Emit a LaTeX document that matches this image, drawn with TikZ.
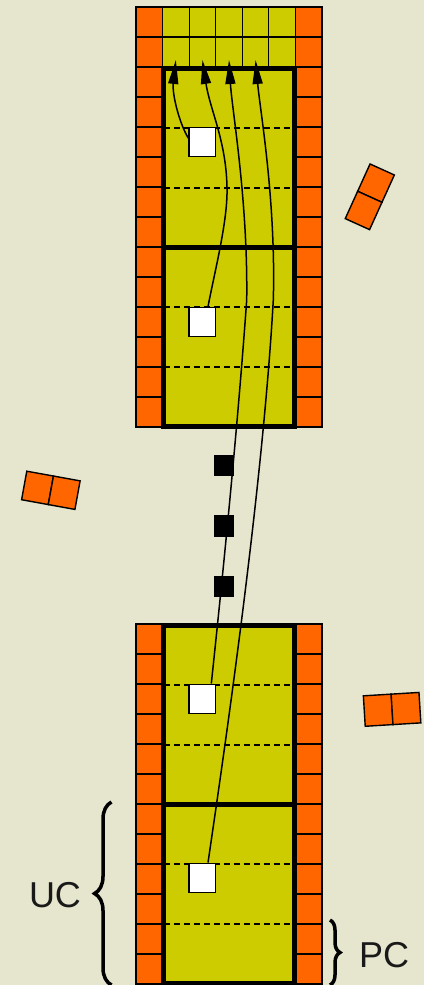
\documentclass[tikz,border=0pt]{standalone}
\usepackage{fontspec}
\setmainfont{Liberation Sans}
\usetikzlibrary{arrows.meta,positioning,decorations.pathreplacing}

\definecolor{bgbeige}{RGB}{230,229,205}
\definecolor{brickorange}{RGB}{255,102,0}
\definecolor{cellyellow}{RGB}{204,204,0}

\begin{document}
\begin{tikzpicture}[x=1pt, y=-1pt, >={Triangle[length=24pt,width=10pt]},
    brick/.style={rectangle, draw, line width=1.2pt, fill=brickorange, minimum width=26.57pt, minimum height=30pt, inner sep=0pt, outer sep=0pt},
    tile/.style={brick, fill=cellyellow},
    domino/.style={brick, line width=1.4pt},
    unitbox/.style={rectangle, draw, line width=5pt, fill=cellyellow, minimum width=131pt, minimum height=179pt, inner sep=0pt, outer sep=0pt},
    slot/.style={rectangle, draw, line width=1.4pt, fill=white, minimum width=26.5pt, minimum height=29.5pt, inner sep=0pt},
    token/.style={rectangle, fill=black, minimum width=19.5pt, minimum height=21.5pt, inner sep=0pt},
    divider/.style={draw, line width=1.4pt, dash pattern=on 6pt off 4pt},
    flow/.style={draw, ->, line width=1.5pt},
    curly/.style={draw, line width=3.5pt, decorate, decoration={brace, amplitude=#1}},
    curly/.default=10pt,
    tag/.style={font=\fontsize{36}{43}\selectfont, text=black!90, inner sep=0pt}]

    \fill[bgbeige] (0,0) rectangle (424,985);
    \useasboundingbox (0,0) rectangle (424,985);

    % Side columns
    \foreach \r in {0,...,13} {
        \node[brick] (lA-\r) at (149.28, 22+30*\r) {};
        \node[brick] (rA-\r) at (308.71, 22+30*\r) {};
    }
    \foreach \r in {0,...,11} {
        \node[brick] (lB-\r) at (149.28, 639+30*\r) {};
        \node[brick] (rB-\r) at (308.71, 639+30*\r) {};
    }

    % Top grid
    \foreach \c in {1,...,5}
        \foreach \r in {1,2}
            \node[tile] (g-\r-\c) at (149.285+26.57*\c, 22+30*\r-30) {};

    % Units
    \node[unitbox] (unitA1) at (229, 157.5) {};
    \node[unitbox, below=0pt of unitA1] (unitA2) {};
    \node[unitbox] (unitB1) at (229, 714.5) {};
    \node[unitbox, below=0pt of unitB1] (unitB2) {};

    \foreach \u in {unitA1,unitA2,unitB1,unitB2}
        \foreach \d in {60,120}
            \path[divider] ([yshift=-\d pt]\u.north west) -- ([yshift=-\d pt]\u.north east);

    % Slots
    \node[slot] (s1) at (202.4, 142) {};
    \node[slot] (s2) at (202.4, 322) {};
    \node[slot] (s3) at (202.4, 699) {};
    \node[slot] (s4) at (202.4, 878) {};

    % Paths
    \path[flow] (s1.165) .. controls (180,125) and (172,95) .. ([yshift=7pt]g-2-1.south);
    \path[flow] (s2.70) .. controls (215,270) and (228,220) .. (227,187)
        .. controls (226,140) and (210,110) .. ([yshift=7pt]g-2-2.south);
    \path[flow] (s3.60) .. controls (218,620) and (236,450) .. (246.7,300)
        .. controls (248,200) and (232,110) .. ([yshift=7pt]g-2-3.south);
    \path[flow] (s4.70) .. controls (220,780) and (262,500) .. (273.3,300)
        .. controls (276,200) and (260,110) .. ([yshift=7pt]g-2-4.south);

    % Dots
    \node[token] (t1) at (224, 465.5) {};
    \node[token, below=38.5pt of t1] (t2) {};
    \node[token, below=38.5pt of t2] (t3) {};

    % Loose dominoes
    \begin{scope}[shift={(369.8,196.8)}, rotate=-24.4, transform shape]
        \node[domino, minimum width=26.7pt] (dA-1) at (0,-15) {};
        \node[domino, minimum width=26.7pt] (dA-2) at (0,15) {};
    \end{scope}
    \begin{scope}[shift={(50.85,490.3)}, rotate=-10.3, transform shape]
        \node[domino, minimum width=27.1pt, minimum height=29pt] (dB-1) at (-13.55,0) {};
        \node[domino, minimum width=27.1pt, minimum height=29pt] (dB-2) at (13.55,0) {};
    \end{scope}
    \begin{scope}[shift={(392.1,709.35)}, rotate=3.5, transform shape]
        \node[domino, minimum width=27.9pt, minimum height=30.5pt] (dC-1) at (-13.9,0) {};
        \node[domino, minimum width=27.9pt, minimum height=30.5pt] (dC-2) at (13.9,0) {};
    \end{scope}

    % Braces
    \node[tag] (uc) at (55,895) {UC};
    \node[tag] (pc) at (384,955.5) {PC};
    \path[curly=17pt] ([xshift=-52pt, yshift=-2pt]unitB2.south west) -- ([xshift=-52pt, yshift=2pt]unitB2.north west);
    \path[curly=10pt] ([xshift=35.5pt, yshift=63pt]unitB2.south east) -- ([xshift=35.5pt, yshift=-2pt]unitB2.south east);

\end{tikzpicture}
\end{document}
